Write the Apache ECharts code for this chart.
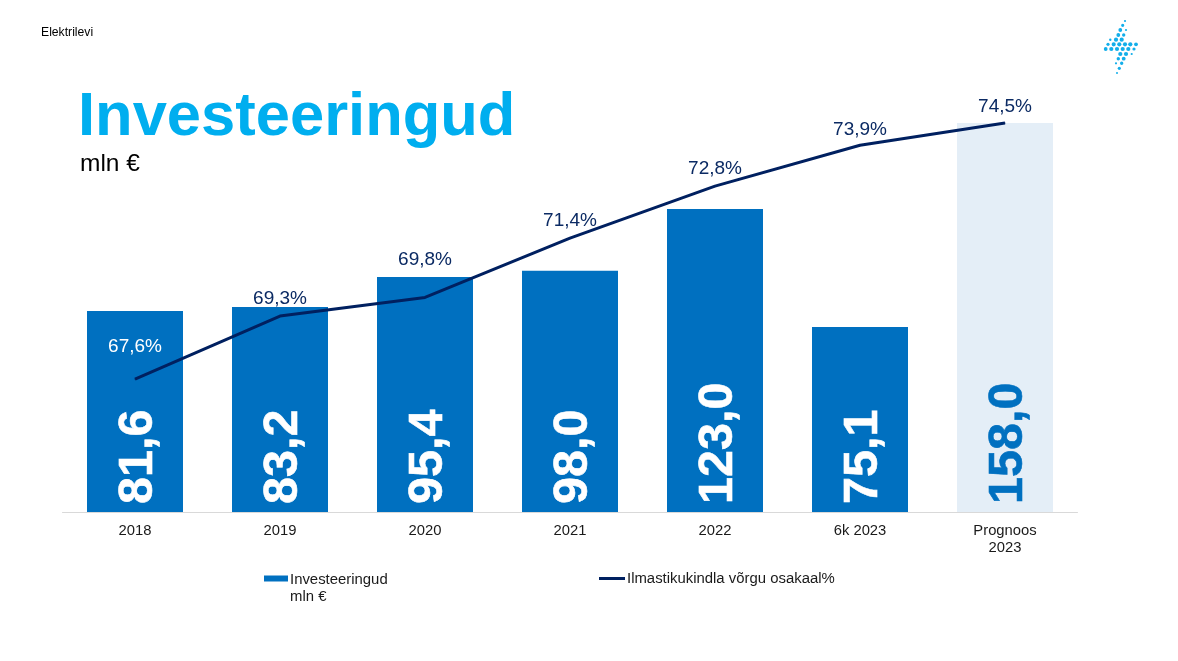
<!DOCTYPE html>
<html>
<head>
<meta charset="utf-8">
<style>html,body{margin:0;padding:0;background:#fff}#main{width:1178px;height:661px}</style>
<script src="https://cdn.jsdelivr.net/npm/echarts@6/dist/echarts.min.js"></script>
</head>
<body>
<div id="main"></div>
<script>
var categories = ["2018", "2019", "2020", "2021", "2022", "6k 2023", "Prognoos\n2023"];
var investments = [81.6, 83.2, 95.4, 98.0, 123.0, 75.1, 158.0];
var shares = [67.6, 69.3, 69.8, 71.4, 72.8, 73.9, 74.5];
var shareLabelGaps = [22, 7, 28, 7, 7, 6, 6];
var shareLabelColors = ["#ffffff", "#0b2a63", "#0b2a63", "#0b2a63", "#0b2a63", "#0b2a63", "#0b2a63"];

var barBlue = "#0070c0";
var paleBlue = "#e4eef7";
var navy = "#002060";
var fontName = "'Liberation Sans', Arial, sans-serif";

function comma(v, digits) {
  return v.toFixed(digits).replace(".", ",");
}

// logo dots: x, y, r
var logoDots = [
  [1125, 21, 1.1], [1122.7, 25.3, 1.6], [1120.3, 30, 1.9], [1126, 30, 1.1],
  [1118.3, 35, 1.9], [1123.7, 35, 1.7], [1110.3, 39.7, 1.2], [1116, 39.7, 2.1], [1121.7, 39.7, 2.1],
  [1108, 44.3, 1.6], [1113.7, 44.3, 2.1], [1119.3, 44.3, 2.1], [1125, 44.3, 2.1], [1130.3, 44.3, 2.1], [1136, 44.3, 1.9],
  [1105.7, 49, 1.9], [1111.3, 49, 2.1], [1117, 49, 2.1], [1122.7, 49, 2.1], [1128.3, 49, 2.1], [1134, 49, 1.6],
  [1120.3, 54, 2.1], [1126, 54, 2.1], [1131.7, 54, 1.1],
  [1118.3, 58.7, 1.7], [1123.7, 58.7, 1.9],
  [1116, 63.3, 1.1], [1121.7, 63.3, 1.7],
  [1119.3, 68.3, 1.6], [1117, 73, 1]
];

var myChart = echarts.init(document.getElementById("main"), null, { renderer: "canvas" });
myChart.setOption({
  animation: false,
  backgroundColor: "#fff",
  title: [
    { text: "Elektrilevi", left: 41, top: 27, padding: 0, textStyle: { fontFamily: fontName, fontSize: 12.2, fontWeight: "normal", color: "#000" } },
    { text: "Investeeringud", left: 78, top: 87, padding: 0, textStyle: { fontFamily: fontName, fontSize: 61.5, fontWeight: "bold", color: "#00aeef" } },
    { text: "mln €", left: 80, top: 152, padding: 0, textStyle: { fontFamily: fontName, fontSize: 24.5, fontWeight: "normal", color: "#000" } }
  ],
  legend: [
    {
      data: ["Investeeringud\nmln €"], left: 264, top: 571, padding: 0,
      // bar swatch sits beside the first text line, empty subpaths stretch the icon box
      icon: "path://M0,4.5H24V10.5H0Z M0,0H0 M0,34H0", itemWidth: 24, itemHeight: 34,
      textStyle: { fontFamily: fontName, fontSize: 14.9, color: "#1a1a1a", lineHeight: 17, padding: [0, 0, 0, -3] }
    },
    {
      data: ["Ilmastikukindla võrgu osakaal%"], left: 599, top: 571, padding: 0, icon: "rect", itemWidth: 26, itemHeight: 3,
      textStyle: { fontFamily: fontName, fontSize: 14.9, color: "#1a1a1a", padding: [0, 0, 0, -3] }
    }
  ],
  grid: { left: 62.5, top: 118, width: 1015, height: 394 },
  xAxis: {
    type: "category",
    data: categories,
    axisTick: { show: false },
    axisLine: { lineStyle: { color: "#d9d9d9", width: 1 } },
    axisLabel: { fontFamily: fontName, fontSize: 14.8, color: "#1a1a1a", margin: 10, lineHeight: 17, interval: 0 }
  },
  yAxis: [
    { type: "value", min: 0, max: 160, show: false },
    { type: "value", min: 64.02, max: 74.635, show: false }
  ],
  series: [
    {
      name: "Investeeringud\nmln €",
      type: "bar",
      barWidth: 96,
      itemStyle: { color: barBlue },
      data: investments.map(function (v, i) {
        var last = i === investments.length - 1;
        return {
          value: v,
          itemStyle: { color: last ? paleBlue : barBlue },
          label: {
            show: true,
            formatter: comma(v, 1),
            rotate: 90,
            position: "insideBottom",
            distance: 8,
            offset: [0, 4],
            align: "left",
            verticalAlign: "middle",
            fontFamily: fontName,
            fontSize: 48.5,
            fontWeight: "bold",
            color: last ? barBlue : "#fff",
            textBorderColor: last ? barBlue : "#fff",
            textBorderWidth: 0.6
          }
        };
      })
    },
    {
      name: "Ilmastikukindla võrgu osakaal%",
      type: "line",
      yAxisIndex: 1,
      symbol: "circle",
      symbolSize: 1,
      showAllSymbol: true,
      lineStyle: { color: navy, width: 3 },
      itemStyle: { color: navy },
      data: shares.map(function (v, i) {
        return {
          value: v,
          label: {
            show: true,
            position: "top",
            distance: shareLabelGaps[i],
            formatter: comma(v, 1) + "%",
            fontFamily: fontName,
            fontSize: 19,
            color: shareLabelColors[i]
          }
        };
      })
    }
  ],
  graphic: logoDots.map(function (d) {
    return { type: "circle", shape: { cx: d[0], cy: d[1], r: d[2] }, style: { fill: "#12aeea" }, silent: true };
  })
});
</script>
</body>
</html>
